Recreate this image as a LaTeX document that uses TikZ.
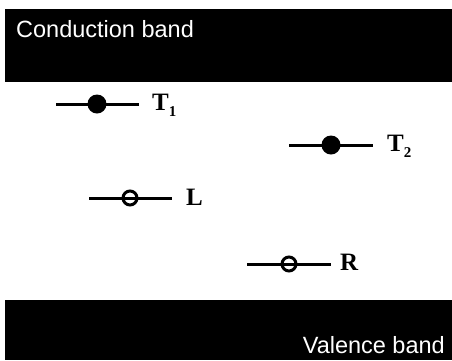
\documentclass[tikz,border=0pt]{standalone}
\usepackage{fontspec}
\setmainfont{Liberation Serif}
\newfontfamily\bandfont{Liberation Sans}
\begin{document}
\begin{tikzpicture}[x=1pt,y=-1pt,
  band/.style={fill=black,draw=none},
  bandtext/.style={text=white,font=\bandfont\fontsize{23.5}{25}\selectfont,inner sep=0pt},
  level/.style={line width=3pt},
  full/.style={circle,fill=black,draw=none,minimum size=19pt,inner sep=0pt},
  empty/.style={circle,draw=black,line width=3pt,fill=none,minimum size=14pt,inner sep=0pt},
  lab/.style={font=\bfseries\fontsize{25}{27}\selectfont,inner sep=0pt,anchor=base west}]
\useasboundingbox (0,0) rectangle (452,360);
\fill[white] (0,0) rectangle (452,360);
% bands
\path[band] (5,9) rectangle (452,82);
\path[band] (5,300) rectangle (452,360);
\node[bandtext,anchor=base west] (cb) at (16,37) {Conduction band};
\node[bandtext,anchor=base east] (vb) at (445,353) {Valence band};
% T1
\coordinate (t1a) at (56,104); \coordinate (t1b) at (139,104);
\draw[level] (t1a) -- (t1b);
\node[full] (t1) at (97,104) {};
\node[lab] (t1l) at (152,110) {T\raisebox{-0.25em}{\fontsize{15}{15}\selectfont 1}};
% T2
\coordinate (t2a) at (289,145); \coordinate (t2b) at (373,145);
\draw[level] (t2a) -- (t2b);
\node[full] (t2) at (331,145) {};
\node[lab] (t2l) at (387,151) {T\raisebox{-0.25em}{\fontsize{15}{15}\selectfont 2}};
% L
\coordinate (la) at (89,198); \coordinate (lb) at (172,198);
\draw[level] (la) -- (lb);
\node[empty] (l) at (130,198) {};
\node[lab] (ll) at (186,205) {L};
% R
\coordinate (ra) at (247,264); \coordinate (rb) at (331,264);
\draw[level] (ra) -- (rb);
\node[empty] (r) at (289,264) {};
\node[lab] (rl) at (340,270) {R};
\end{tikzpicture}
\end{document}
